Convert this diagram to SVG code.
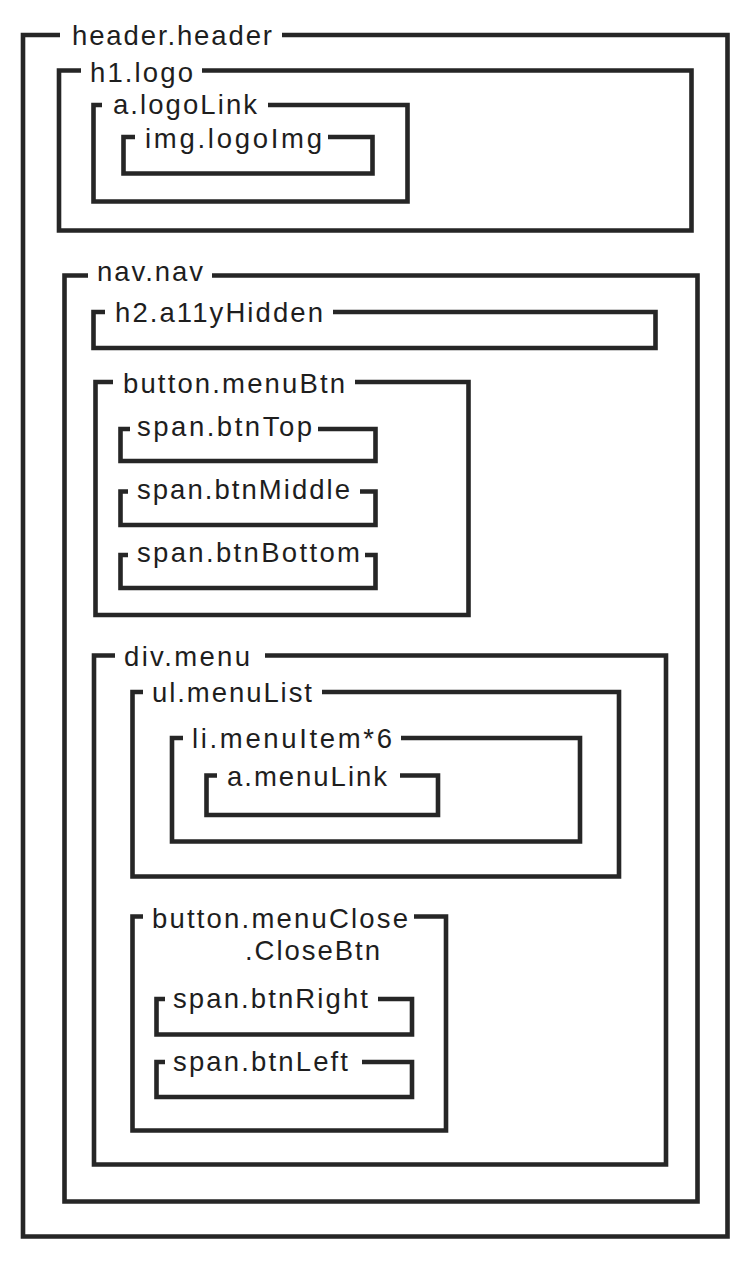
<svg xmlns="http://www.w3.org/2000/svg" width="750" height="1261" viewBox="0 0 750 1261">
  <style>
    .box { fill: none; stroke: #262626; stroke-width: 4.6; stroke-linejoin: miter; stroke-linecap: butt; }
    .lbl { font-family: "Liberation Sans", Arial, sans-serif; font-size: 27.5px; fill: #1e1e1e; }
  </style>
  <rect x="0" y="0" width="750" height="1261" fill="#ffffff"/>

  <!-- each box: open outline with a gap in the top edge for its label -->
  <g id="header">
    <path class="box" d="M282 35 H727.5 V1236.5 H23 V35 H60"/>
    <text class="lbl" x="72" y="44.5" textLength="200" lengthAdjust="spacing">header.header</text>
  </g>
  <g id="h1-logo">
    <path class="box" d="M202 70.5 H691.5 V230.5 H59 V70.5 H81"/>
    <text class="lbl" x="90" y="82" textLength="103" lengthAdjust="spacing">h1.logo</text>
  </g>
  <g id="a-logoLink">
    <path class="box" d="M268 105 H407.5 V201.5 H93.5 V105 H102"/>
    <text class="lbl" x="113" y="114" textLength="144" lengthAdjust="spacing">a.logoLink</text>
  </g>
  <g id="img-logoImg">
    <path class="box" d="M328 137 H372.5 V173.5 H123.5 V137 H135"/>
    <text class="lbl" x="145" y="147.5" textLength="177" lengthAdjust="spacing">img.logoImg</text>
  </g>

  <g id="nav">
    <path class="box" d="M212 275.5 H697.5 V1201.5 H64.5 V275.5 H88"/>
    <text class="lbl" x="97" y="280.5" textLength="106" lengthAdjust="spacing">nav.nav</text>
  </g>
  <g id="h2-a11yHidden">
    <path class="box" d="M333 312 H655.5 V348 H93.5 V312 H105"/>
    <text class="lbl" x="115" y="322" textLength="208" lengthAdjust="spacing">h2.a11yHidden</text>
  </g>
  <g id="button-menuBtn">
    <path class="box" d="M355 382 H468.5 V615 H95.5 V382 H113"/>
    <text class="lbl" x="123" y="392.5" textLength="222" lengthAdjust="spacing">button.menuBtn</text>
  </g>
  <g id="span-btnTop">
    <path class="box" d="M318 429 H375.5 V461 H120.5 V429 H130"/>
    <text class="lbl" x="137" y="435.5" textLength="175" lengthAdjust="spacing">span.btnTop</text>
  </g>
  <g id="span-btnMiddle">
    <path class="box" d="M360 491.5 H375.5 V525 H120.5 V491.5 H128"/>
    <text class="lbl" x="137" y="498.5" textLength="213" lengthAdjust="spacing">span.btnMiddle</text>
  </g>
  <g id="span-btnBottom">
    <path class="box" d="M365 555 H375.5 V588 H120.5 V555 H128"/>
    <text class="lbl" x="137" y="562" textLength="223" lengthAdjust="spacing">span.btnBottom</text>
  </g>

  <g id="div-menu">
    <path class="box" d="M265 655.5 H666 V1164.5 H94 V655.5 H115"/>
    <text class="lbl" x="124" y="665.5" textLength="126" lengthAdjust="spacing">div.menu</text>
  </g>
  <g id="ul-menuList">
    <path class="box" d="M322 692 H619 V876.5 H132.5 V692 H143"/>
    <text class="lbl" x="152" y="702" textLength="160" lengthAdjust="spacing">ul.menuList</text>
  </g>
  <g id="li-menuItem">
    <path class="box" d="M401 738 H580 V841.5 H172 V738 H183"/>
    <text class="lbl" x="192" y="747.5" textLength="200" lengthAdjust="spacing">li.menuItem*6</text>
  </g>
  <g id="a-menuLink">
    <path class="box" d="M400 775.5 H438 V815 H206.5 V775.5 H217"/>
    <text class="lbl" x="227" y="785.5" textLength="160" lengthAdjust="spacing">a.menuLink</text>
  </g>

  <g id="button-menuClose">
    <path class="box" d="M414 916.5 H446 V1130.5 H132.5 V916.5 H143"/>
    <text class="lbl" x="152" y="927.5" textLength="256" lengthAdjust="spacing">button.menuClose</text>
    <text class="lbl" x="245" y="959.5" textLength="135" lengthAdjust="spacing">.CloseBtn</text>
  </g>
  <g id="span-btnRight">
    <path class="box" d="M378 999 H412 V1034.5 H156.5 V999 H165"/>
    <text class="lbl" x="173" y="1007.5" textLength="195" lengthAdjust="spacing">span.btnRight</text>
  </g>
  <g id="span-btnLeft">
    <path class="box" d="M362 1062 H412 V1097 H156.5 V1062 H165"/>
    <text class="lbl" x="173" y="1070.5" textLength="175" lengthAdjust="spacing">span.btnLeft</text>
  </g>

  <g id="connectors"/>
</svg>
